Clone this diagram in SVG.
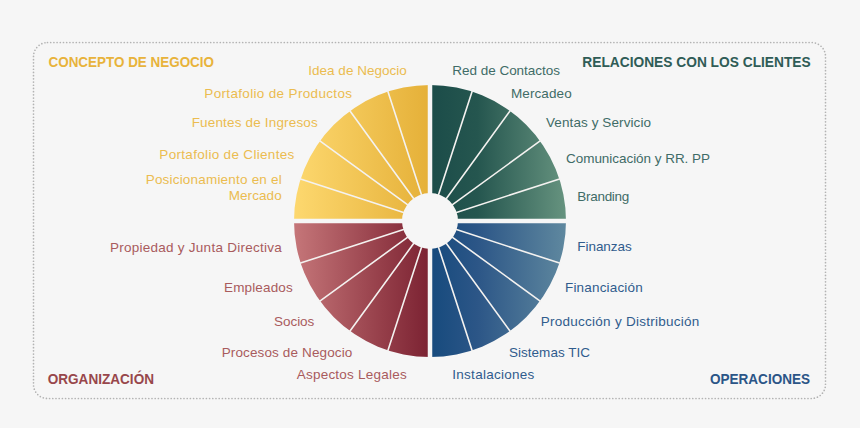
<svg xmlns="http://www.w3.org/2000/svg" width="860" height="428" viewBox="0 0 860 428">
<defs>
<linearGradient id="gY" gradientUnits="userSpaceOnUse" x1="294" y1="0" x2="430" y2="0"><stop offset="0" stop-color="#fdd86f"/><stop offset="1" stop-color="#e5b038"/></linearGradient>
<linearGradient id="gT" gradientUnits="userSpaceOnUse" x1="430" y1="0" x2="566" y2="0"><stop offset="0" stop-color="#1b4c49"/><stop offset="0.35" stop-color="#25564f"/><stop offset="1" stop-color="#66937f"/></linearGradient>
<linearGradient id="gB" gradientUnits="userSpaceOnUse" x1="430" y1="0" x2="566" y2="0"><stop offset="0" stop-color="#164a7d"/><stop offset="0.35" stop-color="#2c5687"/><stop offset="1" stop-color="#5f889f"/></linearGradient>
<linearGradient id="gR" gradientUnits="userSpaceOnUse" x1="294" y1="0" x2="430" y2="0"><stop offset="0" stop-color="#c57679"/><stop offset="0.65" stop-color="#953e49"/><stop offset="1" stop-color="#7b2232"/></linearGradient>
<style>
text{font-family:"Liberation Sans","DejaVu Sans",Arial,sans-serif;font-size:13.5px}
.h{font-weight:bold;font-size:15.5px}
.y{fill:#ebbc50}.yh{fill:#e8b33b}
.t{fill:#3f6c67}.th{fill:#2f5c56}
.r{fill:#a95b5d}.rh{fill:#98474b}
.b{fill:#305c8d}.bh{fill:#2b5587}
.end{text-anchor:end}
.thin{stroke:#f4f2f0;stroke-width:1.6;fill:none}
.gap{stroke:#f6f6f6;stroke-width:4.5;fill:none}
</style>
</defs>
<rect width="860" height="428" fill="#f6f6f6"/>
<rect x="33.5" y="42.5" width="792" height="356" rx="14" fill="none" stroke="#b3b3b3" stroke-width="1.7" stroke-dasharray="0 3.2" stroke-linecap="round"/>

<g id="wheel">
<g id="q-concepto"><path d="M430 85A136 136 0 0 0 294 221L402 221A28 28 0 0 1 430 193Z" fill="url(#gY)"/></g>
<g id="q-relaciones"><path d="M430 85A136 136 0 0 1 566 221L458 221A28 28 0 0 0 430 193Z" fill="url(#gT)"/></g>
<g id="q-operaciones"><path d="M566 221A136 136 0 0 1 430 357L430 249A28 28 0 0 0 458 221Z" fill="url(#gB)"/></g>
<g id="q-organizacion"><path d="M430 357A136 136 0 0 1 294 221L402 221A28 28 0 0 0 430 249Z" fill="url(#gR)"/></g>
</g>

<g id="connectors">
<path class="thin" d="M421.66 195.32L387.67 90.7M414.13 199.16L349.47 110.17M408.16 205.13L319.17 140.47M404.32 212.66L299.7 178.67"/>
<path class="thin" d="M438.34 195.32L472.33 90.7M445.87 199.16L510.53 110.17M451.84 205.13L540.83 140.47M455.68 212.66L560.3 178.67"/>
<path class="thin" d="M438.34 246.68L472.33 351.3M445.87 242.84L510.53 331.83M451.84 236.87L540.83 301.53M455.68 229.34L560.3 263.33"/>
<path class="thin" d="M421.66 246.68L387.67 351.3M414.13 242.84L349.47 331.83M408.16 236.87L319.17 301.53M404.32 229.34L299.7 263.33"/>
<path class="gap" d="M430 80V362M289 221H571"/>
</g>

<g id="concepto">
<text class="h yh" x="48.5" y="67.3" textLength="165.5" lengthAdjust="spacingAndGlyphs">CONCEPTO DE NEGOCIO</text>
<text class="y end" x="406.7" y="75" textLength="98.4">Idea de Negocio</text>
<text class="y end" x="352" y="98.3" textLength="147.7">Portafolio de Productos</text>
<text class="y end" x="317.7" y="126.7" textLength="126">Fuentes de Ingresos</text>
<text class="y end" x="294.3" y="159.3" textLength="135">Portafolio de Clientes</text>
<text class="y end" x="281.7" y="184.3" textLength="136">Posicionamiento en el</text>
<text class="y end" x="281.7" y="200" textLength="53">Mercado</text>
</g>

<g id="relaciones">
<text class="h th" x="582.3" y="67.3" textLength="228.4" lengthAdjust="spacingAndGlyphs">RELACIONES CON LOS CLIENTES</text>
<text class="t" x="452.3" y="75" textLength="107.7">Red de Contactos</text>
<text class="t" x="511" y="98.3" textLength="60.7">Mercadeo</text>
<text class="t" x="546" y="126.7" textLength="105">Ventas y Servicio</text>
<text class="t" x="566" y="163.3" textLength="144">Comunicación y RR. PP</text>
<text class="t" x="577.3" y="200.7" textLength="52">Branding</text>
</g>

<g id="organizacion">
<text class="h rh" x="47.7" y="384" textLength="106.3" lengthAdjust="spacingAndGlyphs">ORGANIZACIÓN</text>
<text class="r end" x="281.7" y="251.7" textLength="171.7">Propiedad y Junta Directiva</text>
<text class="r end" x="292.7" y="292.3" textLength="68.7">Empleados</text>
<text class="r end" x="314.3" y="325.7" textLength="40.3">Socios</text>
<text class="r end" x="352.3" y="356.7" textLength="130.6">Procesos de Negocio</text>
<text class="r end" x="406.7" y="379" textLength="110">Aspectos Legales</text>
</g>

<g id="operaciones">
<text class="h bh" x="710" y="384" textLength="100" lengthAdjust="spacingAndGlyphs">OPERACIONES</text>
<text class="b" x="577.3" y="251" textLength="54.4">Finanzas</text>
<text class="b" x="565" y="291.7" textLength="77.7">Financiación</text>
<text class="b" x="540.7" y="325.7" textLength="158.6">Producción y Distribución</text>
<text class="b" x="509" y="356.7" textLength="81">Sistemas TIC</text>
<text class="b" x="452.3" y="379" textLength="82">Instalaciones</text>
</g>
</svg>
